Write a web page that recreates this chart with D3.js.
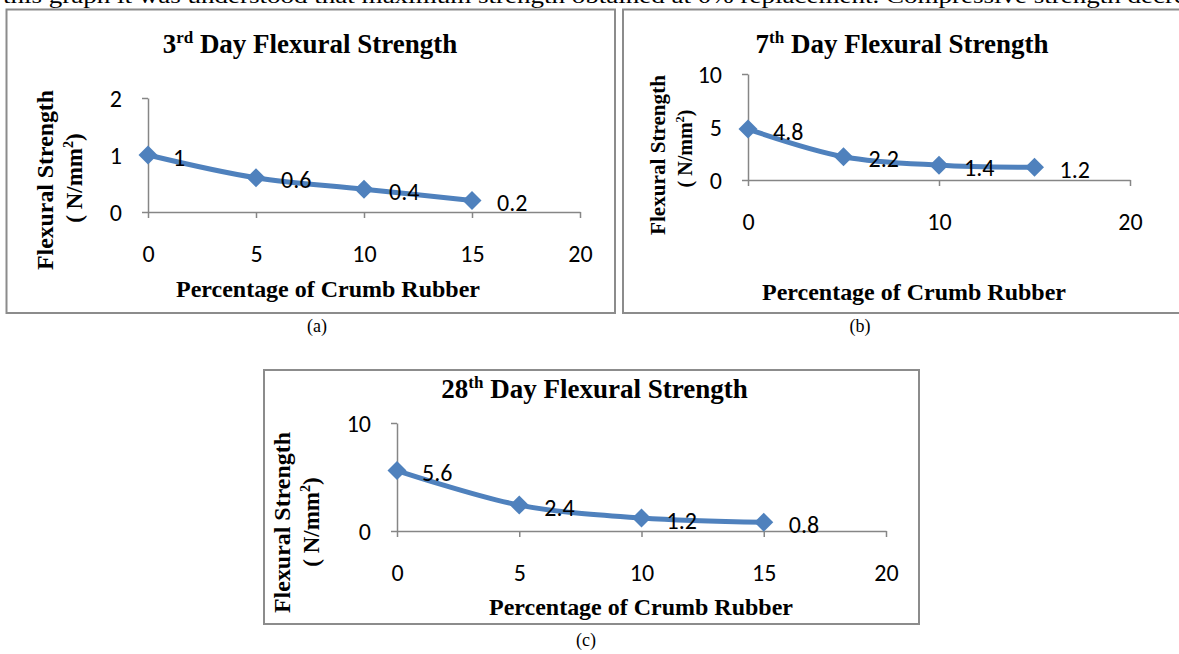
<!DOCTYPE html>
<html>
<head>
<meta charset="utf-8">
<script src="https://cdn.jsdelivr.net/npm/d3@7"></script>
<style>
  html, body { margin: 0; padding: 0; background: #fff; overflow: hidden; }
  svg { display: block; }
</style>
</head>
<body>
<svg id="chart" width="1179" height="654"></svg>
<script>
// ---------- data ----------
const crumbRubberPct = [0, 5, 10, 15];
const day3Strength = [1, 0.6, 0.4, 0.2];
const day7Strength = [4.8, 2.2, 1.4, 1.2];
const day28Strength = [5.6, 2.4, 1.2, 0.8];

const day3XTicks = [0, 5, 10, 15, 20];
const day7XTicks = [0, 10, 20];
const day28XTicks = [0, 5, 10, 15, 20];

const day3YTicks = [0, 1, 2];
const day7YTicks = [0, 5, 10];
const day28YTicks = [0, 10];

const day3Title = ["3", "rd", " Day Flexural Strength"];
const day7Title = ["7", "th", " Day Flexural Strength"];
const day28Title = ["28", "th", " Day Flexural Strength"];

const xAxisTitle = "Percentage of Crumb Rubber";
const yAxisTitle1 = "Flexural Strength";
const yAxisTitle2 = ["( N/mm", "2", ")"];
const captions = ["(a)", "(b)", "(c)"];
const bodyText = "this graph it was understood that maximum strength obtained at 0% replacement. Compressive strength decrea";

// ---------- layout ----------
const panels = [
  { values: day3Strength, xTicks: day3XTicks, yTicks: day3YTicks, title: day3Title, caption: captions[0],
    box: [6.5, 9.5, 615, 313], px: [148, 580], py: [212, 98],
    titleX: 310, titleY: 53, xtX: 328, xtY: 297,
    yt1: { x: 53, y: 180, len: 180, fs: 23 }, yt2: { x: 82, y: 178, len: 93, fs: 23 },
    capX: 317, capY: 332 },
  { values: day7Strength, xTicks: day7XTicks, yTicks: day7YTicks, title: day7Title, caption: captions[1],
    box: [623, 9.5, 1195, 313], px: [748, 1130], py: [180, 74],
    titleX: 902, titleY: 53, xtX: 914, xtY: 300,
    yt1: { x: 665, y: 155, len: 160, fs: 22 }, yt2: { x: 692, y: 148.5, len: 77, fs: 20 },
    capX: 860, capY: 332 },
  { values: day28Strength, xTicks: day28XTicks, yTicks: day28YTicks, title: day28Title, caption: captions[2],
    box: [264, 370, 919, 624], px: [397, 886], py: [531, 423],
    titleX: 594.5, titleY: 398, xtX: 641, xtY: 615,
    yt1: { x: 290, y: 522.5, len: 181, fs: 24 }, yt2: { x: 319, y: 522, len: 90, fs: 23 },
    capX: 586, capY: 646 }
];

const serif = "'Times New Roman', 'Liberation Serif', serif";
const sans = "Carlito, Lato, 'Liberation Sans', sans-serif";
const lineColor = "#4F81BD";
const axisColor = "#868686";
const numSize = 24;

const svg = d3.select("#chart");
svg.append("rect").attr("width", 1179).attr("height", 654).attr("fill", "#fff");

// body text line (cut at top, as in the source page)
svg.append("text")
  .attr("x", 3).attr("y", 3)
  .attr("font-family", serif).attr("font-size", 21)
  .attr("textLength", 1195).attr("lengthAdjust", "spacingAndGlyphs")
  .attr("fill", "#000")
  .text(bodyText);

panels.forEach(p => {
  const g = svg.append("g");
  const [bx0, by0, bx1, by1] = p.box;
  g.append("rect")
    .attr("x", bx0).attr("y", by0).attr("width", bx1 - bx0).attr("height", by1 - by0)
    .attr("fill", "#fff").attr("stroke", "#8c8c8c").attr("stroke-width", 2);

  const xMax = d3.max(p.xTicks);
  const yMax = d3.max(p.yTicks);
  const x = d3.scaleLinear().domain([0, xMax]).range(p.px);
  const y = d3.scaleLinear().domain([0, yMax]).range(p.py);

  // title
  const t = g.append("text")
    .attr("x", p.titleX).attr("y", p.titleY)
    .attr("text-anchor", "middle")
    .attr("font-family", serif).attr("font-weight", "bold").attr("font-size", 27)
    .attr("fill", "#000");
  t.append("tspan").text(p.title[0]);
  t.append("tspan").attr("font-size", 17).attr("dy", -10).text(p.title[1]);
  t.append("tspan").attr("dy", 10).text(p.title[2]);

  // axes
  const xAxis = d3.axisBottom(x).tickValues(p.xTicks).tickSize(6).tickSizeOuter(0).tickFormat(d3.format("d"));
  const yAxis = d3.axisLeft(y).tickValues(p.yTicks).tickSize(6).tickSizeOuter(0).tickFormat(d3.format("d"));

  const gx = g.append("g").attr("transform", `translate(0,${p.py[0]})`).call(xAxis);
  const gy = g.append("g").attr("transform", `translate(${p.px[0]},0)`).call(yAxis);
  [gx, gy].forEach(a => {
    a.select(".domain").attr("stroke", axisColor).attr("stroke-width", 1.5);
    a.selectAll(".tick line").attr("stroke", axisColor).attr("stroke-width", 1.5);
    a.selectAll("text").attr("font-family", sans).attr("font-size", numSize).attr("fill", "#000");
  });
  gx.selectAll("text").attr("y", 42).attr("dy", "0.35em");
  gy.selectAll("text").attr("x", -26).attr("dy", "0.36em");

  // axis titles
  g.append("text")
    .attr("x", p.xtX).attr("y", p.xtY)
    .attr("text-anchor", "middle")
    .attr("font-family", serif).attr("font-weight", "bold").attr("font-size", 24)
    .attr("textLength", 304).attr("lengthAdjust", "spacingAndGlyphs")
    .attr("fill", "#000")
    .text(xAxisTitle);

  g.append("text")
    .attr("transform", `translate(${p.yt1.x},${p.yt1.y}) rotate(-90)`)
    .attr("text-anchor", "middle")
    .attr("font-family", serif).attr("font-weight", "bold").attr("font-size", p.yt1.fs)
    .attr("textLength", p.yt1.len).attr("lengthAdjust", "spacingAndGlyphs")
    .attr("fill", "#000")
    .text(yAxisTitle1);

  const y2 = g.append("text")
    .attr("transform", `translate(${p.yt2.x},${p.yt2.y}) rotate(-90)`)
    .attr("text-anchor", "middle")
    .attr("font-family", serif).attr("font-weight", "bold").attr("font-size", p.yt2.fs)
    .attr("fill", "#000");
  y2.append("tspan").text(yAxisTitle2[0]);
  y2.append("tspan").attr("font-size", p.yt2.fs * 0.62).attr("dy", -p.yt2.fs * 0.38).text(yAxisTitle2[1]);
  y2.append("tspan").attr("dy", p.yt2.fs * 0.38).text(yAxisTitle2[2]);

  // series
  const pts = crumbRubberPct.map((c, i) => ({ c, v: p.values[i] }));
  const line = d3.line().x(d => x(d.c)).y(d => y(d.v)).curve(d3.curveCatmullRom.alpha(0.5));
  g.append("path").datum(pts)
    .attr("d", line).attr("fill", "none")
    .attr("stroke", lineColor).attr("stroke-width", 5).attr("stroke-linejoin", "round");

  const r = 9.5;
  g.selectAll(".mk").data(pts).enter().append("path")
    .attr("class", "mk")
    .attr("d", d => { const cx = x(d.c), cy = y(d.v);
      return `M${cx},${cy - r}L${cx + r},${cy}L${cx},${cy + r}L${cx - r},${cy}Z`; })
    .attr("fill", lineColor);

  g.selectAll(".lbl").data(pts).enter().append("text")
    .attr("class", "lbl")
    .attr("x", d => x(d.c) + 25).attr("y", d => y(d.v) + 2)
    .attr("dy", "0.36em")
    .attr("font-family", sans).attr("font-size", numSize).attr("fill", "#000")
    .text(d => String(d.v));

  // caption
  svg.append("text")
    .attr("x", p.capX).attr("y", p.capY)
    .attr("text-anchor", "middle")
    .attr("font-family", serif).attr("font-size", 18).attr("fill", "#000")
    .text(p.caption);
});
</script>
</body>
</html>
